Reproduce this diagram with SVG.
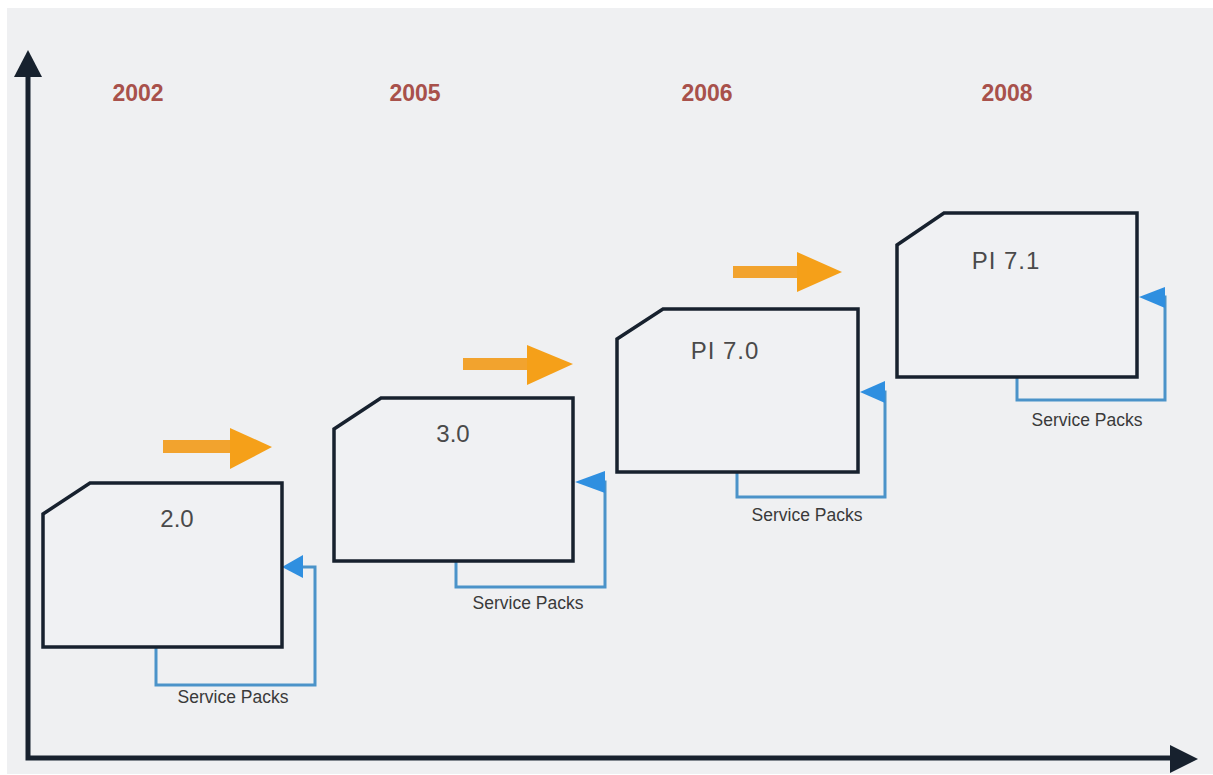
<svg xmlns="http://www.w3.org/2000/svg" width="1213" height="775" viewBox="0 0 1213 775">
<defs>
<style>
.box{fill:#f0f1f3;stroke:#17212e;stroke-width:3.5;stroke-linejoin:miter}
.lbl{font-family:"Liberation Sans",Arial,sans-serif;font-size:24px;fill:#4a4a4a;text-anchor:middle}
.wide{letter-spacing:1px}
.year{font-family:"Liberation Sans",Arial,sans-serif;font-size:23px;font-weight:bold;fill:#a8514b;text-anchor:middle}
.sp{font-family:"Liberation Sans",Arial,sans-serif;font-size:17.5px;fill:#3a3a3a;text-anchor:middle}
.loop{fill:none;stroke:#4b93c9;stroke-width:3}
.loophead{fill:#2f8fe0}
.axis{stroke:#17212e;stroke-width:5;fill:none}
.axhead{fill:#17212e}
.oshaft{fill:#f2a32e}
.ohead{fill:#f5a019}
</style>
</defs>
<rect x="0" y="0" width="1213" height="775" fill="#ffffff"/>
<rect x="7" y="8" width="1206" height="766" fill="#eff0f2"/>

<g id="axes">
<path class="axis" d="M28,76 V758 H1172"/>
<polygon class="axhead" points="28,50 14,77 42,77"/>
<polygon class="axhead" points="1198,759 1170,745 1170,773"/>
</g>

<g id="years">
<text class="year" x="138" y="101">2002</text>
<text class="year" x="415" y="101">2005</text>
<text class="year" x="707" y="101">2006</text>
<text class="year" x="1007" y="101">2008</text>
</g>

<g id="connectors">
<g id="orange-arrows">
<rect class="oshaft" x="163" y="440" width="70" height="13"/>
<polygon class="ohead" points="230,428 272,447 230,469"/>
<rect class="oshaft" x="463" y="358" width="68" height="12"/>
<polygon class="ohead" points="527,345 573,364 527,385"/>
<rect class="oshaft" x="733" y="266" width="68" height="12"/>
<polygon class="ohead" points="797,252 842,272 797,292"/>
</g>
<g id="sp-loops">
<path class="loop" d="M156,648 V685 H315 V567 H300"/>
<polygon class="loophead" points="282,567 303,555 303,578"/>
<path class="loop" d="M456,562 V587 H605 V482 H595"/>
<polygon class="loophead" points="575,482 605,471 605,493"/>
<path class="loop" d="M737,473 V497 H885 V392 H875"/>
<polygon class="loophead" points="860,392 885,381 885,403"/>
<path class="loop" d="M1017,378 V400 H1165 V297 H1155"/>
<polygon class="loophead" points="1139,297 1165,287 1165,308"/>
</g>
</g>

<g id="node-2-0">
<polygon class="box" points="43,514 90,483 282,483 282,647 43,647"/>
<text class="lbl" x="177" y="527">2.0</text>
<text class="sp" x="233" y="703">Service Packs</text>
</g>

<g id="node-3-0">
<polygon class="box" points="334,429 381,398 573,398 573,561 334,561"/>
<text class="lbl" x="453" y="442">3.0</text>
<text class="sp" x="528" y="609">Service Packs</text>
</g>

<g id="node-pi-7-0">
<polygon class="box" points="617,339 663,309 858,309 858,472 617,472"/>
<text class="lbl wide" x="725" y="359">PI 7.0</text>
<text class="sp" x="807" y="521">Service Packs</text>
</g>

<g id="node-pi-7-1">
<polygon class="box" points="897,245 944,213 1137,213 1137,377 897,377"/>
<text class="lbl wide" x="1006" y="269">PI 7.1</text>
<text class="sp" x="1087" y="426">Service Packs</text>
</g>
</svg>
